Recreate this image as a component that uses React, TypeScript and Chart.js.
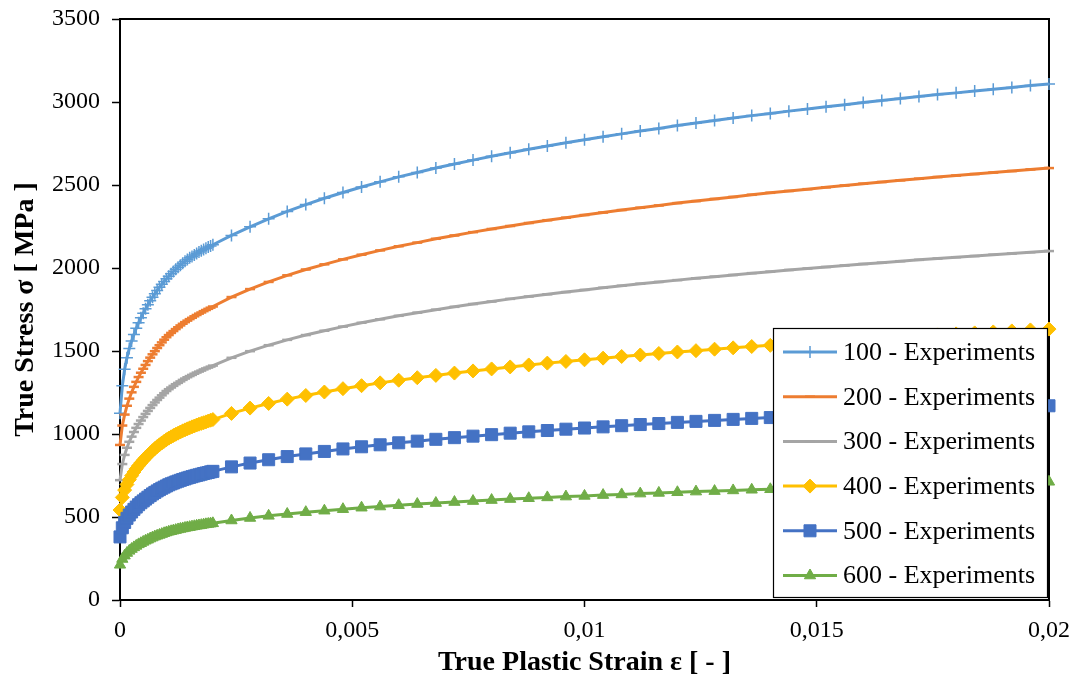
import React, { useEffect, useRef } from 'react';
import { Chart, registerables } from 'chart.js';
import { drawPoint } from 'chart.js/helpers';

Chart.register(...registerables);

// True plastic strain [-]: fine sampling up to 0.002, then every 0.0004
const strain = [
  0, 0.00005, 0.0001, 0.00015, 0.0002, 0.00025, 0.0003, 0.00035, 0.0004, 0.00045, 0.0005,
  0.00055, 0.0006, 0.00065, 0.0007, 0.00075, 0.0008, 0.00085, 0.0009, 0.00095, 0.001,
  0.00105, 0.0011, 0.00115, 0.0012, 0.00125, 0.0013, 0.00135, 0.0014, 0.00145, 0.0015,
  0.00155, 0.0016, 0.00165, 0.0017, 0.00175, 0.0018, 0.00185, 0.0019, 0.00195, 0.002,
  0.0024, 0.0028, 0.0032, 0.0036, 0.004, 0.0044, 0.0048, 0.0052, 0.0056, 0.006,
  0.0064, 0.0068, 0.0072, 0.0076, 0.008, 0.0084, 0.0088, 0.0092, 0.0096, 0.01,
  0.0104, 0.0108, 0.0112, 0.0116, 0.012, 0.0124, 0.0128, 0.0132, 0.0136, 0.014,
  0.0144, 0.0148, 0.0152, 0.0156, 0.016, 0.0164, 0.0168, 0.0172, 0.0176, 0.018,
  0.0184, 0.0188, 0.0192, 0.0196, 0.02,
];

// True stress [MPa] per test temperature
const stress100 = [
  1125, 1290, 1390, 1460, 1515, 1560, 1600, 1637, 1670, 1700, 1728,
  1754, 1779, 1802, 1824, 1845, 1865, 1884, 1902, 1919, 1935,
  1950, 1965, 1979, 1992, 2005, 2017, 2029, 2040, 2051, 2061,
  2070, 2079, 2088, 2096, 2104, 2112, 2119, 2126, 2133, 2140,
  2196, 2248, 2296, 2341, 2382, 2420, 2455, 2488, 2519, 2549,
  2575, 2602, 2626, 2650, 2673, 2694, 2715, 2735, 2754, 2773,
  2791, 2808, 2825, 2841, 2858, 2873, 2888, 2903, 2918, 2931,
  2945, 2958, 2971, 2984, 2997, 3009, 3021, 3033, 3045, 3055,
  3066, 3077, 3088, 3099, 3109,
];
const stress200 = [
  934, 1051, 1117, 1170, 1213, 1251, 1284, 1314, 1343, 1369, 1393,
  1416, 1439, 1460, 1480, 1499, 1518, 1535, 1552, 1568, 1583,
  1596, 1609, 1620, 1632, 1643, 1654, 1664, 1674, 1683, 1692,
  1700, 1709, 1717, 1725, 1732, 1740, 1747, 1754, 1761, 1768,
  1825, 1873, 1916, 1956, 1991, 2022, 2052, 2080, 2106, 2131,
  2153, 2176, 2196, 2216, 2235, 2253, 2271, 2288, 2303, 2319,
  2334, 2349, 2363, 2377, 2391, 2403, 2416, 2428, 2441, 2453,
  2464, 2475, 2486, 2497, 2508, 2518, 2528, 2538, 2548, 2557,
  2566, 2575, 2584, 2594, 2602,
];
const stress300 = [
  722, 819, 874, 917, 953, 984, 1012, 1037, 1060, 1081, 1102,
  1121, 1139, 1157, 1174, 1190, 1205, 1219, 1233, 1246, 1259,
  1270, 1280, 1290, 1300, 1308, 1317, 1326, 1334, 1342, 1349,
  1356, 1363, 1370, 1376, 1382, 1389, 1395, 1400, 1406, 1412,
  1459, 1499, 1535, 1567, 1596, 1622, 1647, 1670, 1691, 1712,
  1731, 1749, 1766, 1783, 1798, 1814, 1828, 1842, 1855, 1868,
  1881, 1893, 1905, 1916, 1927, 1938, 1948, 1958, 1969, 1978,
  1988, 1997, 2006, 2015, 2024, 2032, 2041, 2049, 2057, 2065,
  2072, 2080, 2087, 2095, 2102,
];
const stress400 = [
  542, 618, 662, 696, 725, 749, 771, 791, 809, 826, 842,
  857, 872, 886, 899, 912, 924, 935, 946, 956, 966,
  975, 983, 991, 998, 1005, 1012, 1019, 1025, 1031, 1037,
  1043, 1048, 1054, 1059, 1064, 1068, 1073, 1078, 1083, 1087,
  1124, 1156, 1184, 1210, 1232, 1253, 1273, 1291, 1308, 1324,
  1339, 1353, 1367, 1380, 1392, 1404, 1416, 1427, 1437, 1447,
  1457, 1467, 1476, 1485, 1494, 1502, 1511, 1519, 1527, 1534,
  1542, 1549, 1556, 1563, 1570, 1577, 1584, 1590, 1597, 1603,
  1609, 1615, 1621, 1627, 1632,
];
const stress500 = [
  380, 435, 467, 492, 512, 530, 546, 560, 574, 586, 597,
  608, 619, 629, 639, 648, 657, 665, 673, 680, 687,
  694, 700, 705, 711, 716, 721, 726, 730, 735, 739,
  743, 747, 751, 754, 758, 762, 765, 768, 772, 775,
  802, 825, 845, 864, 880, 895, 910, 923, 935, 947,
  957, 968, 978, 987, 996, 1005, 1013, 1021, 1029, 1036,
  1043, 1050, 1057, 1063, 1070, 1076, 1082, 1088, 1094, 1099,
  1105, 1110, 1115, 1120, 1125, 1130, 1135, 1140, 1144, 1149,
  1153, 1157, 1162, 1166, 1170,
];
const stress600 = [
  212, 247, 267, 283, 296, 307, 317, 326, 335, 342, 350,
  357, 363, 370, 376, 382, 387, 392, 397, 402, 407,
  411, 414, 418, 421, 425, 428, 431, 434, 437, 439,
  442, 444, 447, 449, 451, 454, 456, 458, 460, 462,
  479, 494, 507, 518, 529, 538, 547, 556, 563, 571,
  578, 584, 590, 596, 602, 608, 613, 618, 623, 627,
  632, 636, 641, 645, 649, 653, 656, 660, 664, 667,
  671, 674, 677, 681, 684, 687, 690, 693, 696, 699,
  701, 704, 707, 710, 712,
];

const seriesLabels = [
  '100 - Experiments',
  '200 - Experiments',
  '300 - Experiments',
  '400 - Experiments',
  '500 - Experiments',
  '600 - Experiments',
];

const xTicks = [0, 0.005, 0.01, 0.015, 0.02];
const yTickStep = 500;

const SERIF = "'Liberation Serif', 'Times New Roman', serif";

type Style = { color: string; pointStyle: any; radius: number; pointBorderWidth: number };
const styles: Style[] = [
  { color: '#5B9BD5', pointStyle: 'cross', radius: 6, pointBorderWidth: 1.5 },
  { color: '#ED7D31', pointStyle: 'line', radius: 5, pointBorderWidth: 2.5 },
  { color: '#A5A5A5', pointStyle: 'line', radius: 5, pointBorderWidth: 2.5 },
  { color: '#FFC000', pointStyle: 'rectRot', radius: 7, pointBorderWidth: 1 },
  { color: '#4472C4', pointStyle: 'rect', radius: 8.5, pointBorderWidth: 1 },
  { color: '#70AD47', pointStyle: 'triangle', radius: 6.5, pointBorderWidth: 1 },
];

const fmtStrain = (v: number) => String(+v.toFixed(4)).replace('.', ',');

// Plot frame drawn under the curves, boxed legend drawn on top of them
const framePlugin = {
  id: 'frameAndLegend',
  beforeDatasetsDraw(chart: any) {
    const { ctx, chartArea } = chart;
    ctx.save();
    ctx.strokeStyle = '#000';
    ctx.lineWidth = 2;
    ctx.strokeRect(chartArea.left, chartArea.top, chartArea.right - chartArea.left, chartArea.bottom - chartArea.top);
    ctx.restore();
  },
  afterDatasetsDraw(chart: any) {
    const { ctx, chartArea } = chart;
    const boxRight = chartArea.right - 1;
    const boxLeft = boxRight - 275;
    const boxBottom = chartArea.bottom - 2;
    const boxTop = boxBottom - 270;
    ctx.save();
    ctx.fillStyle = '#fff';
    ctx.fillRect(boxLeft, boxTop, boxRight - boxLeft, boxBottom - boxTop);
    ctx.strokeStyle = '#000';
    ctx.lineWidth = 1.2;
    ctx.strokeRect(boxLeft + 0.5, boxTop + 0.5, boxRight - boxLeft - 1, boxBottom - boxTop - 1);
    const ds = chart.data.datasets;
    const rowH = 44.7;
    ds.forEach((d: any, i: number) => {
      const y = boxTop + 24 + i * rowH;
      const x0 = boxLeft + 10;
      const x1 = boxLeft + 64;
      ctx.strokeStyle = d.borderColor;
      ctx.lineWidth = 3;
      ctx.beginPath();
      ctx.moveTo(x0, y);
      ctx.lineTo(x1, y);
      ctx.stroke();
      ctx.fillStyle = d.pointBackgroundColor;
      ctx.strokeStyle = d.pointBorderColor;
      ctx.lineWidth = d.pointBorderWidth;
      drawPoint(ctx, { pointStyle: d.pointStyle, radius: d.pointRadius, rotation: 0, borderWidth: d.pointBorderWidth }, (x0 + x1) / 2, y);
      ctx.fillStyle = '#000';
      ctx.font = `26px ${SERIF}`;
      ctx.textBaseline = 'middle';
      ctx.textAlign = 'left';
      ctx.fillText(d.label, boxLeft + 70, y + 1);
    });
    ctx.restore();
  },
};

export default function App() {
  const canvasRef = useRef<HTMLCanvasElement | null>(null);

  useEffect(() => {
    const canvas = canvasRef.current;
    if (!canvas) return;
    const seriesValues = [stress100, stress200, stress300, stress400, stress500, stress600];
    const datasets = seriesValues.map((vals, i) => {
      const s = styles[i];
      return {
        label: seriesLabels[i],
        data: strain.map((x, k) => ({ x, y: vals[k] })),
        borderColor: s.color,
        backgroundColor: s.color,
        borderWidth: 3,
        pointStyle: s.pointStyle,
        pointRadius: s.radius,
        pointHoverRadius: s.radius,
        pointBackgroundColor: s.color,
        pointBorderColor: s.color,
        pointBorderWidth: s.pointBorderWidth,
        tension: 0,
        fill: false,
        clip: false as any,
        order: 6 - i,
      };
    });

    const chart = new Chart(canvas, {
      type: 'line',
      data: { datasets },
      plugins: [framePlugin],
      options: {
        animation: false,
        responsive: true,
        maintainAspectRatio: false,
        layout: { padding: { top: 19, right: 34, left: 0, bottom: 0 } },
        plugins: {
          legend: { display: false },
          tooltip: { enabled: false },
        },
        scales: {
          x: {
            type: 'linear',
            min: 0,
            max: 0.02,
            afterBuildTicks: (scale: any) => {
              scale.ticks = xTicks.map((v) => ({ value: v }));
            },
            afterFit: (scale: any) => {
              scale.height = 84;
              scale.paddingLeft = 0;
              scale.paddingRight = 0;
            },
            ticks: {
              autoSkip: false,
              maxRotation: 0,
              color: '#000',
              padding: 9,
              font: { family: SERIF, size: 24 },
              callback: (v: any) => fmtStrain(Number(v)),
            },
            grid: {
              display: true,
              drawOnChartArea: false,
              drawTicks: true,
              tickLength: 7,
              color: '#000',
              tickColor: '#000',
              tickWidth: 1.5,
            },
            border: { display: true, color: '#000', width: 2 },
            title: {
              display: true,
              text: 'True Plastic Strain ε [ - ]',
              color: '#000',
              font: { family: SERIF, size: 28, weight: 'bold' },
              padding: { top: 0, bottom: 4 },
            },
          },
          y: {
            type: 'linear',
            min: 0,
            max: 3500,
            afterFit: (scale: any) => {
              scale.width = 120;
              scale.paddingTop = 0;
              scale.paddingBottom = 0;
            },
            ticks: {
              stepSize: yTickStep,
              color: '#000',
              padding: 12,
              font: { family: SERIF, size: 24 },
              callback: (v: any) => String(v),
            },
            grid: {
              display: true,
              drawOnChartArea: false,
              drawTicks: true,
              tickLength: 8,
              color: '#000',
              tickColor: '#000',
              tickWidth: 1.5,
            },
            border: { display: true, color: '#000', width: 2 },
            title: {
              display: true,
              text: 'True Stress σ [ MPa ]',
              color: '#000',
              font: { family: SERIF, size: 28, weight: 'bold' },
              padding: { top: 9, bottom: 0 },
            },
          },
        },
      },
    });

    return () => chart.destroy();
  }, []);

  return (
    <div style={{ position: 'fixed', left: 0, top: 0, width: 1083, height: 684, background: '#fff' }}>
      <canvas ref={canvasRef} />
    </div>
  );
}
